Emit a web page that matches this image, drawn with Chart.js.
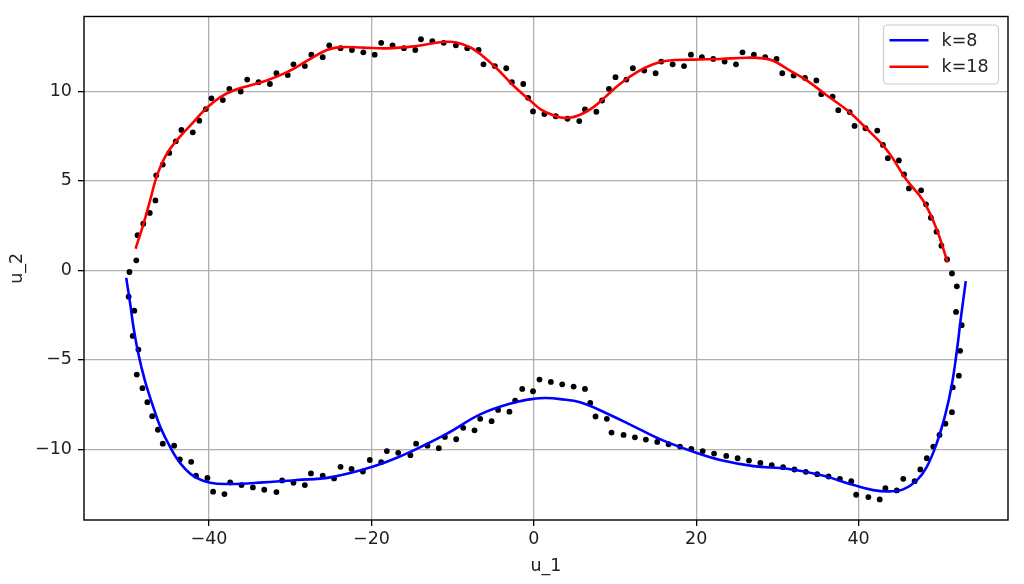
<!DOCTYPE html>
<html>
<head>
<meta charset="utf-8">
<script src="https://cdn.jsdelivr.net/npm/chart.js@4/dist/chart.umd.min.js"></script>
<style>
  html, body { margin: 0; padding: 0; background: #fff; }
  #wrap { width: 1024px; height: 584px; }
</style>
</head>
<body>
<div id="wrap"><canvas id="c" width="1024" height="584"></canvas></div>
<script>
// ---- data ----
const xTicks = [-40, -20, 0, 20, 40];
const yTicks = [-10, -5, 0, 5, 10];
const xTitle = "u_1";
const yTitle = "u_2";
const seriesLabels = ["k=8", "k=18"];

const upperDotX = [-49.8,-48.96,-48.8,-48.1,-47.3,-46.6,-46.5,-45.7,-44.9,-44.1,-43.4,-42.0,-41.2,-40.4,-39.7,-38.3,-37.5,-36.1,-35.3,-33.9,-32.5,-31.7,-30.3,-29.6,-28.2,-27.4,-26.0,-25.2,-23.8,-22.4,-21.0,-19.6,-18.8,-17.4,-16.0,-14.6,-13.9,-12.5,-11.1,-9.6,-8.2,-6.8,-6.2,-4.8,-3.4,-2.7,-1.3,-0.7,-0.1,1.3,2.7,4.15,5.6,6.3,7.7,8.4,9.25,10.06,11.4,12.2,13.6,15.0,15.7,17.1,18.5,19.35,20.7,22.1,23.5,24.9,25.7,27.1,28.5,29.9,30.6,32.0,33.4,34.8,35.4,36.8,37.5,38.9,39.5,40.85,42.3,43.0,43.6,44.96,45.6,46.2,47.7,48.3,48.9,49.6,50.2,50.9,51.5];
const upperDotY = [-0.1,0.55,1.96,2.6,3.2,3.9,5.3,5.9,6.55,7.2,7.83,7.7,8.35,9.0,9.6,9.5,10.13,9.98,10.65,10.5,10.4,11.0,10.9,11.5,11.4,12.04,11.9,12.56,12.4,12.3,12.17,12.04,12.7,12.56,12.4,12.3,12.9,12.8,12.7,12.56,12.4,12.3,11.5,11.4,11.28,10.5,10.4,9.63,8.87,8.72,8.6,8.46,8.33,8.98,8.85,9.48,10.13,10.78,10.65,11.28,11.15,11.0,11.65,11.5,11.4,12.04,11.9,11.8,11.65,11.5,12.17,12.04,11.9,11.8,11.0,10.87,10.74,10.6,9.83,9.7,8.94,8.83,8.06,7.93,7.8,7.0,6.26,6.13,5.35,4.57,4.46,3.68,2.93,2.15,1.37,0.6,-0.18];

const lowerDotX = [-49.9,-49.2,-49.4,-48.7,-48.9,-48.2,-47.6,-47.0,-46.3,-45.7,-44.3,-43.6,-42.2,-41.6,-40.2,-39.5,-38.1,-37.4,-36.0,-34.6,-33.2,-31.7,-31.0,-29.6,-28.2,-27.45,-26.0,-24.6,-23.8,-22.45,-21.05,-20.2,-18.8,-18.1,-16.7,-15.2,-14.5,-13.1,-11.7,-10.95,-9.56,-8.7,-7.3,-6.6,-5.2,-4.4,-3.0,-2.3,-1.43,-0.1,0.7,2.1,3.5,4.9,6.3,6.95,7.6,9.0,9.57,11.05,12.45,13.8,15.2,16.6,18.0,19.4,20.8,22.2,23.7,25.1,26.5,27.9,29.3,30.7,32.1,33.5,34.9,36.3,37.7,39.1,39.7,41.2,42.6,43.3,44.7,45.5,46.9,47.6,48.4,49.2,49.96,50.7,51.5,51.6,52.35,52.5,52.7,52.0,52.1];
const lowerDotY = [-1.48,-2.26,-3.67,-4.43,-5.83,-6.59,-7.37,-8.15,-8.91,-9.69,-9.8,-10.57,-10.7,-11.48,-11.6,-12.37,-12.5,-11.85,-12.0,-12.13,-12.26,-12.39,-11.74,-11.87,-12.0,-11.35,-11.48,-11.63,-10.98,-11.1,-11.24,-10.6,-10.72,-10.1,-10.2,-10.33,-9.69,-9.8,-9.94,-9.31,-9.44,-8.8,-8.94,-8.3,-8.43,-7.8,-7.9,-7.28,-6.63,-6.76,-6.11,-6.24,-6.37,-6.5,-6.63,-7.41,-8.17,-8.3,-9.07,-9.2,-9.33,-9.46,-9.59,-9.72,-9.85,-9.98,-10.1,-10.24,-10.37,-10.5,-10.63,-10.76,-10.89,-11.0,-11.13,-11.26,-11.39,-11.52,-11.65,-11.78,-12.54,-12.67,-12.8,-12.17,-12.3,-11.65,-11.78,-11.13,-10.5,-9.85,-9.2,-8.57,-7.93,-6.54,-5.89,-4.5,-3.07,-2.33,-0.9];

const blueX = [-50.2,-49.7,-49.3,-48.7,-47.9,-47.0,-46.0,-44.8,-43.5,-41.9,-39.85,-37.4,-33.3,-29.2,-25.1,-21.0,-18.1,-14.8,-10.7,-6.6,-2.5,0.0,1.5,3.25,5.7,9.0,12.3,15.6,19.7,22.95,27.05,31.2,35.3,39.4,41.8,43.9,45.5,47.2,48.4,49.6,50.7,51.5,52.1,52.6,53.2];
const blueY = [-0.43,-1.9,-3.2,-4.68,-6.17,-7.46,-8.76,-9.87,-10.8,-11.5,-11.87,-11.94,-11.85,-11.72,-11.57,-11.13,-10.7,-10.06,-9.13,-8.05,-7.4,-7.18,-7.14,-7.2,-7.38,-8.0,-8.72,-9.45,-10.15,-10.6,-10.94,-11.09,-11.44,-12.0,-12.28,-12.35,-12.24,-11.72,-10.98,-9.69,-8.02,-6.35,-4.5,-2.65,-0.61];

const redX = [-49.05,-48.1,-47.2,-46.4,-45.2,-43.5,-41.9,-40.3,-38.6,-37.0,-35.3,-32.9,-30.4,-27.9,-25.5,-23.8,-21.0,-18.1,-14.8,-12.35,-10.7,-9.5,-7.8,-6.6,-4.5,-2.5,-0.44,0.8,2.4,4.07,5.7,7.35,9.0,10.6,12.7,14.7,16.4,19.7,22.95,26.2,28.3,29.5,31.2,33.6,36.1,38.6,41.0,43.5,45.9,48.0,49.6,50.95];
const redY = [1.2,2.54,4.0,5.3,6.5,7.5,8.28,9.06,9.67,10.04,10.28,10.6,11.06,11.7,12.3,12.46,12.43,12.39,12.5,12.68,12.76,12.72,12.44,12.07,11.24,10.3,9.48,9.0,8.65,8.5,8.68,9.11,9.76,10.4,11.06,11.5,11.7,11.76,11.8,11.87,11.83,11.7,11.24,10.6,9.76,8.93,7.9,6.7,5.05,3.85,2.3,0.46];

// ---- build chart ----
const pts = (xs, ys) => xs.map((x, i) => ({x: x, y: ys[i]}));
const dots = pts(upperDotX, upperDotY).concat(pts(lowerDotX, lowerDotY));
const FONT = 'DejaVu Sans';
const FS = 17.5;
const minus = v => String(v).replace('-', '\u2212');

const frameAndLegend = {
  id: 'frameAndLegend',
  afterDraw(chart) {
    const {ctx, chartArea: a} = chart;
    ctx.save();
    ctx.strokeStyle = '#000';
    ctx.lineWidth = 1.4;
    ctx.strokeRect(a.left, a.top, a.right - a.left, a.bottom - a.top);
    // legend
    const entries = chart.data.datasets.filter(d => d.label);
    const w = 115, h = 59, rowH = 26.6;
    const x0 = a.right - 9.5 - w, y0 = a.top + 8.5;
    ctx.beginPath();
    ctx.roundRect(x0, y0, w, h, 4);
    ctx.fillStyle = 'rgba(255,255,255,0.8)';
    ctx.fill();
    ctx.strokeStyle = '#cccccc';
    ctx.lineWidth = 1.2;
    ctx.stroke();
    ctx.font = FS + 'px "' + FONT + '"';
    ctx.textBaseline = 'middle';
    ctx.textAlign = 'left';
    entries.forEach((d, i) => {
      const cy = y0 + 15.2 + i * rowH;
      ctx.beginPath();
      ctx.moveTo(x0 + 6, cy);
      ctx.lineTo(x0 + 45, cy);
      ctx.strokeStyle = d.borderColor;
      ctx.lineWidth = 2.5;
      ctx.stroke();
      ctx.fillStyle = '#222';
      ctx.fillText(d.label, x0 + 58, cy + 1);
    });
    ctx.restore();
  }
};

new Chart(document.getElementById('c'), {
  type: 'scatter',
  data: {
    datasets: [
      { label: seriesLabels[0], data: pts(blueX, blueY), showLine: true, borderColor: '#0000ff',
        borderWidth: 2.6, pointRadius: 0, tension: 0.4, order: 0 },
      { label: seriesLabels[1], data: pts(redX, redY), showLine: true, borderColor: '#ff0000',
        borderWidth: 2.6, pointRadius: 0, tension: 0.4, order: 0 },
      { label: '', data: dots, showLine: false, pointRadius: 2.9, pointBackgroundColor: '#000',
        pointBorderWidth: 0, borderColor: '#000', order: 1 }
    ]
  },
  options: {
    responsive: false,
    animation: false,
    events: [],
    layout: { padding: { left: 0, top: 14, right: 16, bottom: 0 } },
    plugins: { legend: { display: false }, tooltip: { enabled: false } },
    scales: {
      x: {
        type: 'linear', min: -55.4, max: 58.4,
        afterBuildTicks: s => { s.ticks = xTicks.map(v => ({value: v})); },
        afterFit: s => { s.height = 64; },
        grid: { color: '#b0b0b0', lineWidth: 1.3, drawTicks: true, tickLength: 6, tickColor: '#000' },
        border: { display: false },
        ticks: { color: '#222', padding: 3, maxRotation: 0, font: { family: FONT, size: FS },
                 callback: v => minus(v) },
        title: { display: true, text: xTitle, color: '#222', font: { family: FONT, size: FS },
                 padding: { top: 0, bottom: 7.5 } }
      },
      y: {
        type: 'linear', min: -13.95, max: 14.17,
        afterBuildTicks: s => { s.ticks = yTicks.map(v => ({value: v})); },
        afterFit: s => { s.width = 84; },
        grid: { color: '#b0b0b0', lineWidth: 1.3, drawTicks: true, tickLength: 6, tickColor: '#000' },
        border: { display: false },
        ticks: { color: '#222', padding: 6, font: { family: FONT, size: FS },
                 callback: v => minus(v) },
        title: { display: true, text: yTitle, color: '#222', font: { family: FONT, size: FS },
                 padding: { top: 7, bottom: 0 } }
      }
    }
  },
  plugins: [frameAndLegend]
});
</script>
</body>
</html>
